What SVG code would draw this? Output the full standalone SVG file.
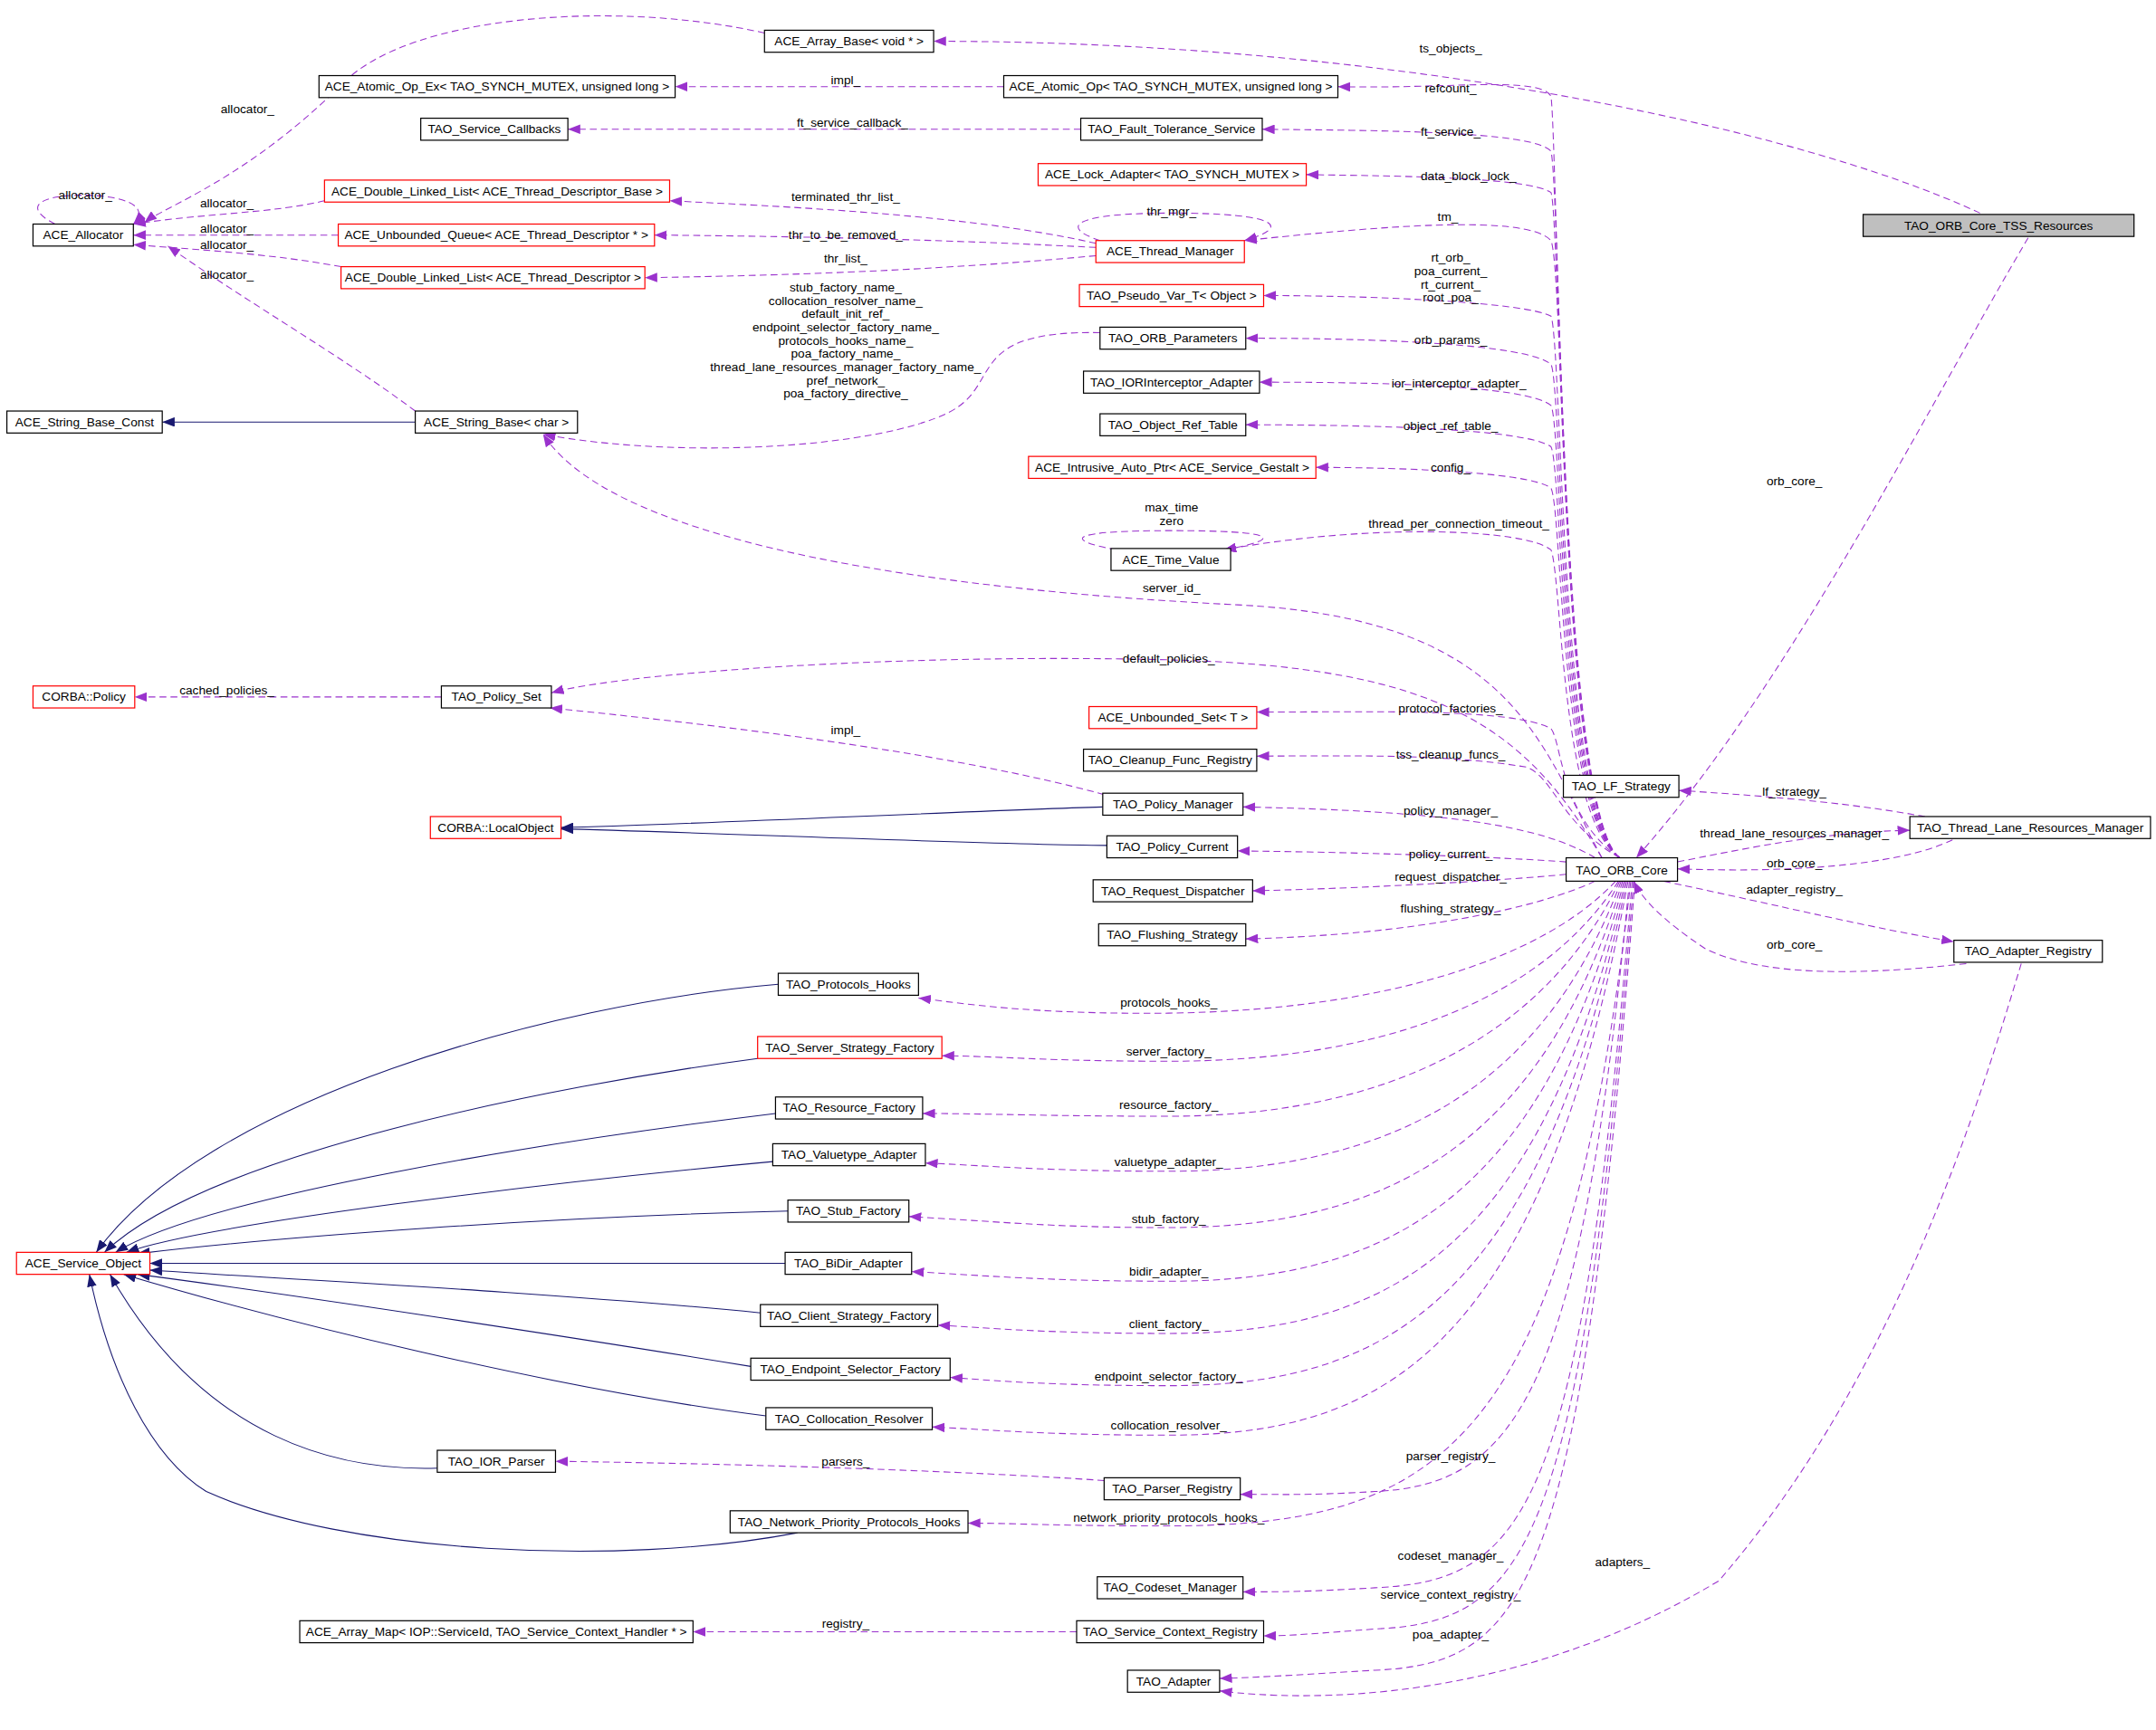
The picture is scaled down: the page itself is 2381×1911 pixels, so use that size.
<svg xmlns="http://www.w3.org/2000/svg" width="2381" height="1911" viewBox="0 0 2381 1911">
<defs>
<style>
.n rect{fill:#fff;stroke:#000;stroke-width:0.8}
.r rect{stroke:#f00}
.g rect{fill:#bfbfbf}
text{font-family:"Liberation Sans",Arial,sans-serif;font-size:9px;fill:#000}
.n text{text-anchor:middle}
.e path{fill:none;stroke:#9a32cd;stroke-width:0.7;stroke-dasharray:5,3}
.e path{marker-end:url(#ap)}
.i path{fill:none;stroke:#191970;stroke-width:0.7;marker-end:url(#ab)}
.l text{text-anchor:middle}
</style>
<marker id="ap" markerUnits="userSpaceOnUse" markerWidth="9" markerHeight="7" refX="9" refY="3.5" orient="auto"><path d="M0,0L9,3.5L0,7z" fill="#9a32cd"/></marker>
<marker id="ab" markerUnits="userSpaceOnUse" markerWidth="9" markerHeight="7" refX="9" refY="3.5" orient="auto"><path d="M0,0L9,3.5L0,7z" fill="#191970"/></marker>
</defs>
<rect width="2381" height="1911" fill="#fff"/>
<g transform="scale(1.5185)">
<g id="connectors">
<g class="e">
<path d="M1440,155 C1300,90 1000,30 679,30"/>
<path d="M556,24 C450,0 300,10 250,60 C180,130 120,150 105,162"/>
<path d="M40,163 C15,150 30,142 60,142 C90,142 110,150 97,163"/>
<path d="M730,63 L491,63"/>
<path d="M786,94 L413,94"/>
<path d="M236,146 C200,155 150,155 97,163"/>
<path d="M246,171 L97,171"/>
<path d="M248,194 C200,185 150,182 97,178"/>
<path d="M302,299 C250,260 180,220 122,179"/>
<path d="M797,177 C700,155 560,150 487,146"/>
<path d="M797,180 C700,175 600,172 476,171"/>
<path d="M797,186 C700,195 600,200 469,202"/>
<path d="M800,175 C770,165 780,155 852,155 C930,155 940,165 905,175"/>
<path d="M800,242 C700,240 730,280 690,300 C640,325 500,335 395,316"/>
<path d="M812,400 C770,392 780,386 852,386 C930,386 935,392 890,400"/>
<path d="M321,507 L98,507"/>
<path d="M803,578 C700,550 550,530 400,515"/>
<path d="M803,1077 C700,1070 550,1065 404,1063"/>
<path d="M783,1187 L504,1187"/>
<path d="M1178,624 C1135,595 1133,110 1128,70 C1120,55 1050,65 973,63"/>
<path d="M1178,624 C1135,595 1135,140 1128,110 C1115,95 1000,95 918,94"/>
<path d="M1178,624 C1135,595 1135,160 1128,140 C1110,128 1000,128 950,127"/>
<path d="M1178,624 C1135,595 1138,200 1128,175 C1110,155 1000,165 905,175"/>
<path d="M1178,624 C1135,595 1136,250 1128,230 C1110,220 1000,215 919,215"/>
<path d="M1178,624 C1135,595 1136,280 1128,265 C1110,250 1000,246 906,246"/>
<path d="M1178,624 C1135,595 1136,310 1128,295 C1110,280 1000,278 916,278"/>
<path d="M1178,624 C1135,595 1136,340 1128,325 C1110,312 1000,309 906,309"/>
<path d="M1178,624 C1135,595 1136,370 1128,355 C1110,342 1000,340 957,340"/>
<path d="M1178,624 C1135,595 1136,420 1128,400 C1110,385 1000,380 890,400"/>
<path d="M1165,624 C1120,540 1100,450 900,440 C700,430 450,400 395,316"/>
<path d="M1165,624 C1110,530 1050,485 850,480 C650,475 450,490 401,504"/>
<path d="M1178,624 C1135,595 1136,540 1128,530 C1100,515 1000,518 914,518"/>
<path d="M1178,624 C1135,600 1130,565 1110,558 C1050,548 980,550 914,550"/>
<path d="M1160,624 C1120,600 1050,590 904,587"/>
<path d="M1139,627 C1100,624 1000,620 900,619"/>
<path d="M1139,636 C1100,640 1000,646 911,648"/>
<path d="M1160,641 C1120,660 1030,680 906,683"/>
<path d="M1175,641 C1120,700 1000,735 850,737 C750,738 700,730 668,726"/>
<path d="M1177,641 C1120,730 1000,772 850,772 C760,772 720,768 685,768"/>
<path d="M1178,641 C1120,760 1000,812 850,812 C760,812 720,810 671,810"/>
<path d="M1179,641 C1120,800 1000,852 850,852 C760,852 720,848 673,846"/>
<path d="M1180,641 C1120,840 1000,893 850,893 C760,893 720,888 661,885"/>
<path d="M1181,641 C1120,880 1000,932 850,932 C760,932 720,928 663,925"/>
<path d="M1182,641 C1120,920 1000,970 850,970 C760,970 720,966 682,964"/>
<path d="M1183,641 C1120,955 1000,1008 850,1008 C760,1008 720,1004 691,1002"/>
<path d="M1184,641 C1120,990 1000,1044 850,1044 C760,1044 720,1040 678,1038"/>
<path d="M1185,641 C1150,1020 1100,1080 1000,1085 C950,1088 930,1087 902,1087"/>
<path d="M1186,641 C1140,1050 1050,1110 850,1110 C760,1110 740,1108 704,1108"/>
<path d="M1187,641 C1150,1100 1110,1150 1000,1155 C950,1158 930,1158 904,1158"/>
<path d="M1188,641 C1150,1130 1110,1180 1000,1185 C960,1188 940,1190 919,1190"/>
<path d="M1189,641 C1150,1160 1110,1210 1000,1215 C950,1218 920,1220 887,1221"/>
<path d="M1470,701 C1440,800 1380,1000 1250,1150 C1100,1240 950,1238 887,1230"/>
<path d="M1475,173 C1400,300 1300,500 1190,624"/>
<path d="M1400,594 C1350,585 1300,580 1221,575"/>
<path d="M1220,627 C1280,615 1330,605 1389,604"/>
<path d="M1420,611 C1380,630 1300,635 1220,632"/>
<path d="M1210,641 C1300,660 1360,675 1421,685"/>
<path d="M1430,701 C1350,710 1280,710 1240,690 C1210,670 1195,655 1188,641"/>
</g>
<g class="i">
<path d="M302,307 L118,307"/>
<path d="M802,587 C700,590 500,600 408,602"/>
<path d="M805,615 C700,614 500,605 408,603"/>
<path d="M566,716 C400,730 150,800 70,911"/>
<path d="M551,770 C400,790 150,840 76,911"/>
<path d="M564,810 C400,830 150,870 84,911"/>
<path d="M562,845 C400,860 150,890 92,911"/>
<path d="M573,881 C400,885 200,900 100,912"/>
<path d="M571,919 L109,919"/>
<path d="M553,955 C400,940 200,930 109,924"/>
<path d="M546,994 C400,970 200,940 100,927"/>
<path d="M557,1030 C400,1010 200,960 90,927"/>
<path d="M318,1068 C250,1070 150,1050 80,927"/>
<path d="M580,1115 C450,1140 250,1130 150,1085 C110,1060 80,1000 65,927"/>
</g>
</g>
<g class="l">
<text x="1055" y="38">ts_objects_</text>
<text x="180" y="82">allocator_</text>
<text x="62" y="145">allocator_</text>
<text x="615" y="61">impl_</text>
<text x="620" y="92">ft_service_callback_</text>
<text x="165" y="151">allocator_</text>
<text x="165" y="169">allocator_</text>
<text x="165" y="181">allocator_</text>
<text x="165" y="203">allocator_</text>
<text x="615" y="146">terminated_thr_list_</text>
<text x="615" y="174">thr_to_be_removed_</text>
<text x="615" y="191">thr_list_</text>
<text x="852" y="157">thr_mgr_</text>
<text x="615" y="212">stub_factory_name_</text>
<text x="615" y="222">collocation_resolver_name_</text>
<text x="615" y="231">default_init_ref_</text>
<text x="615" y="241">endpoint_selector_factory_name_</text>
<text x="615" y="251">protocols_hooks_name_</text>
<text x="615" y="260">poa_factory_name_</text>
<text x="615" y="270">thread_lane_resources_manager_factory_name_</text>
<text x="615" y="280">pref_network_</text>
<text x="615" y="289">poa_factory_directive_</text>
<text x="852" y="372">max_time</text>
<text x="852" y="382">zero</text>
<text x="852" y="431">server_id_</text>
<text x="850" y="482">default_policies_</text>
<text x="165" y="505">cached_policies_</text>
<text x="615" y="534">impl_</text>
<text x="615" y="1066">parsers_</text>
<text x="615" y="1184">registry_</text>
<text x="1055" y="67">refcount_</text>
<text x="1055" y="99">ft_service_</text>
<text x="1068" y="131">data_block_lock_</text>
<text x="1053" y="161">tm_</text>
<text x="1055" y="190">rt_orb_</text>
<text x="1055" y="200">poa_current_</text>
<text x="1055" y="210">rt_current_</text>
<text x="1055" y="219">root_poa_</text>
<text x="1055" y="250">orb_params_</text>
<text x="1061" y="282">ior_interceptor_adapter_</text>
<text x="1055" y="313">object_ref_table_</text>
<text x="1055" y="343">config_</text>
<text x="1061" y="384">thread_per_connection_timeout_</text>
<text x="1055" y="518">protocol_factories_</text>
<text x="1055" y="552">tss_cleanup_funcs_</text>
<text x="1055" y="593">policy_manager_</text>
<text x="1055" y="624">policy_current_</text>
<text x="1055" y="641">request_dispatcher_</text>
<text x="1055" y="664">flushing_strategy_</text>
<text x="850" y="732">protocols_hooks_</text>
<text x="850" y="768">server_factory_</text>
<text x="850" y="807">resource_factory_</text>
<text x="850" y="848">valuetype_adapter_</text>
<text x="850" y="890">stub_factory_</text>
<text x="850" y="928">bidir_adapter_</text>
<text x="850" y="966">client_factory_</text>
<text x="850" y="1004">endpoint_selector_factory_</text>
<text x="850" y="1040">collocation_resolver_</text>
<text x="1055" y="1062">parser_registry_</text>
<text x="850" y="1107">network_priority_protocols_hooks_</text>
<text x="1055" y="1135">codeset_manager_</text>
<text x="1055" y="1163">service_context_registry_</text>
<text x="1055" y="1192">poa_adapter_</text>
<text x="1180" y="1139">adapters_</text>
<text x="1305" y="353">orb_core_</text>
<text x="1305" y="579">lf_strategy_</text>
<text x="1305" y="609">thread_lane_resources_manager_</text>
<text x="1305" y="631">orb_core_</text>
<text x="1305" y="650">adapter_registry_</text>
<text x="1305" y="690">orb_core_</text>
</g>
<g id="n1" class="n"><rect x="556" y="22" width="123" height="16"/><text x="617.5" y="33">ACE_Array_Base&lt; void * &gt;</text></g>
<g id="n2" class="n"><rect x="232" y="55" width="259" height="16"/><text x="361.5" y="66">ACE_Atomic_Op_Ex&lt; TAO_SYNCH_MUTEX, unsigned long &gt;</text></g>
<g id="n3" class="n"><rect x="730" y="55" width="243" height="16"/><text x="851.5" y="66">ACE_Atomic_Op&lt; TAO_SYNCH_MUTEX, unsigned long &gt;</text></g>
<g id="n4" class="n"><rect x="306" y="86" width="107" height="16"/><text x="359.5" y="97">TAO_Service_Callbacks</text></g>
<g id="n5" class="n"><rect x="786" y="86" width="132" height="16"/><text x="852" y="97">TAO_Fault_Tolerance_Service</text></g>
<g id="n6" class="n r"><rect x="755" y="119" width="195" height="16"/><text x="852.5" y="130">ACE_Lock_Adapter&lt; TAO_SYNCH_MUTEX &gt;</text></g>
<g id="n7" class="n r"><rect x="236" y="131" width="251" height="16"/><text x="361.5" y="142">ACE_Double_Linked_List&lt; ACE_Thread_Descriptor_Base &gt;</text></g>
<g id="n8" class="n"><rect x="24" y="163" width="73" height="16"/><text x="60.5" y="174">ACE_Allocator</text></g>
<g id="n9" class="n r"><rect x="246" y="163" width="230" height="16"/><text x="361" y="174">ACE_Unbounded_Queue&lt; ACE_Thread_Descriptor * &gt;</text></g>
<g id="n10" class="n r"><rect x="248" y="194" width="221" height="16"/><text x="358.5" y="205">ACE_Double_Linked_List&lt; ACE_Thread_Descriptor &gt;</text></g>
<g id="n11" class="n r"><rect x="797" y="175" width="108" height="16"/><text x="851" y="186">ACE_Thread_Manager</text></g>
<g id="n12" class="n g"><rect x="1355" y="156" width="197" height="16"/><text x="1453.5" y="167">TAO_ORB_Core_TSS_Resources</text></g>
<g id="n13" class="n r"><rect x="785" y="207" width="134" height="16"/><text x="852" y="218">TAO_Pseudo_Var_T&lt; Object &gt;</text></g>
<g id="n14" class="n"><rect x="800" y="238" width="106" height="16"/><text x="853" y="249">TAO_ORB_Parameters</text></g>
<g id="n15" class="n"><rect x="788" y="270" width="128" height="16"/><text x="852" y="281">TAO_IORInterceptor_Adapter</text></g>
<g id="n16" class="n"><rect x="800" y="301" width="106" height="16"/><text x="853" y="312">TAO_Object_Ref_Table</text></g>
<g id="n17" class="n r"><rect x="748" y="332" width="209" height="16"/><text x="852.5" y="343">ACE_Intrusive_Auto_Ptr&lt; ACE_Service_Gestalt &gt;</text></g>
<g id="n18" class="n"><rect x="5" y="299" width="113" height="16"/><text x="61.5" y="310">ACE_String_Base_Const</text></g>
<g id="n19" class="n"><rect x="302" y="299" width="118" height="16"/><text x="361" y="310">ACE_String_Base&lt; char &gt;</text></g>
<g id="n20" class="n"><rect x="808" y="399" width="87" height="16"/><text x="851.5" y="410">ACE_Time_Value</text></g>
<g id="n21" class="n r"><rect x="24" y="499" width="74" height="16"/><text x="61" y="510">CORBA::Policy</text></g>
<g id="n22" class="n"><rect x="321" y="499" width="80" height="16"/><text x="361" y="510">TAO_Policy_Set</text></g>
<g id="n23" class="n r"><rect x="792" y="514" width="122" height="16"/><text x="853" y="525">ACE_Unbounded_Set&lt; T &gt;</text></g>
<g id="n24" class="n"><rect x="788" y="545" width="126" height="16"/><text x="851" y="556">TAO_Cleanup_Func_Registry</text></g>
<g id="n25" class="n"><rect x="1137" y="564" width="84" height="16"/><text x="1179" y="575">TAO_LF_Strategy</text></g>
<g id="n26" class="n"><rect x="802" y="577" width="102" height="16"/><text x="853" y="588">TAO_Policy_Manager</text></g>
<g id="n27" class="n r"><rect x="313" y="594" width="95" height="16"/><text x="360.5" y="605">CORBA::LocalObject</text></g>
<g id="n28" class="n"><rect x="805" y="608" width="95" height="16"/><text x="852.5" y="619">TAO_Policy_Current</text></g>
<g id="n29" class="n"><rect x="1139" y="624" width="81" height="17"/><text x="1179.5" y="636">TAO_ORB_Core</text></g>
<g id="n30" class="n"><rect x="1389" y="594" width="175" height="16"/><text x="1476.5" y="605">TAO_Thread_Lane_Resources_Manager</text></g>
<g id="n31" class="n"><rect x="795" y="640" width="116" height="16"/><text x="853" y="651">TAO_Request_Dispatcher</text></g>
<g id="n32" class="n"><rect x="799" y="672" width="107" height="16"/><text x="852.5" y="683">TAO_Flushing_Strategy</text></g>
<g id="n33" class="n"><rect x="1421" y="684" width="108" height="16"/><text x="1475" y="695">TAO_Adapter_Registry</text></g>
<g id="n34" class="n"><rect x="566" y="708" width="102" height="16"/><text x="617" y="719">TAO_Protocols_Hooks</text></g>
<g id="n35" class="n r"><rect x="551" y="754" width="134" height="16"/><text x="618" y="765">TAO_Server_Strategy_Factory</text></g>
<g id="n36" class="n"><rect x="564" y="798" width="107" height="16"/><text x="617.5" y="809">TAO_Resource_Factory</text></g>
<g id="n37" class="n"><rect x="562" y="832" width="111" height="16"/><text x="617.5" y="843">TAO_Valuetype_Adapter</text></g>
<g id="n38" class="n"><rect x="573" y="873" width="88" height="16"/><text x="617" y="884">TAO_Stub_Factory</text></g>
<g id="n39" class="n r"><rect x="12" y="911" width="97" height="16"/><text x="60.5" y="922">ACE_Service_Object</text></g>
<g id="n40" class="n"><rect x="571" y="911" width="92" height="16"/><text x="617" y="922">TAO_BiDir_Adapter</text></g>
<g id="n41" class="n"><rect x="553" y="949" width="129" height="16"/><text x="617.5" y="960">TAO_Client_Strategy_Factory</text></g>
<g id="n42" class="n"><rect x="546" y="988" width="145" height="16"/><text x="618.5" y="999">TAO_Endpoint_Selector_Factory</text></g>
<g id="n43" class="n"><rect x="557" y="1024" width="121" height="16"/><text x="617.5" y="1035">TAO_Collocation_Resolver</text></g>
<g id="n44" class="n"><rect x="318" y="1055" width="86" height="16"/><text x="361" y="1066">TAO_IOR_Parser</text></g>
<g id="n45" class="n"><rect x="803" y="1075" width="99" height="16"/><text x="852.5" y="1086">TAO_Parser_Registry</text></g>
<g id="n46" class="n"><rect x="531" y="1099" width="173" height="16"/><text x="617.5" y="1110">TAO_Network_Priority_Protocols_Hooks</text></g>
<g id="n47" class="n"><rect x="798" y="1147" width="106" height="16"/><text x="851" y="1158">TAO_Codeset_Manager</text></g>
<g id="n48" class="n"><rect x="218" y="1179" width="286" height="16"/><text x="361" y="1190">ACE_Array_Map&lt; IOP::ServiceId, TAO_Service_Context_Handler * &gt;</text></g>
<g id="n49" class="n"><rect x="783" y="1179" width="136" height="16"/><text x="851" y="1190">TAO_Service_Context_Registry</text></g>
<g id="n50" class="n"><rect x="820" y="1215" width="67" height="16"/><text x="853.5" y="1226">TAO_Adapter</text></g>
</g>
</svg>
